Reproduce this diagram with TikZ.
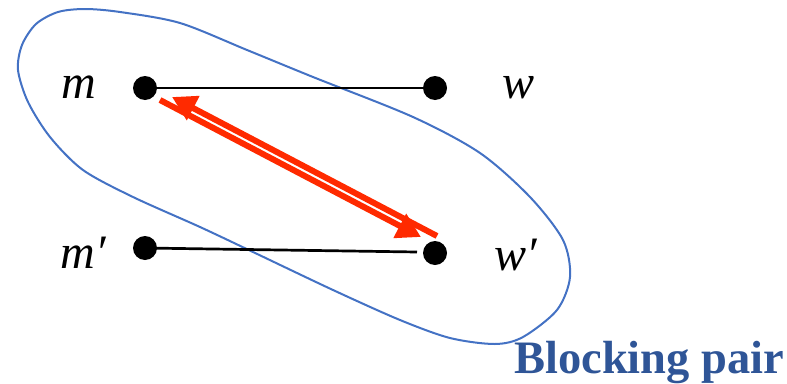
\documentclass[tikz,border=0pt]{standalone}
\usepackage{fontspec}
\setmainfont{Liberation Serif}
\usetikzlibrary{arrows.meta}
\definecolor{ringblue}{HTML}{4472C4}
\definecolor{pairred}{HTML}{FF2A00}
\definecolor{textblue}{HTML}{2F5597}
\tikzset{
  dotnode/.style={circle,fill=black,inner sep=0pt,minimum size=24pt},
  lbl/.style={anchor=base,inner sep=0pt,font=\fontsize{48}{52}\selectfont\itshape},
  redline/.style={draw=pairred,line width=6pt},
  redarrow/.style={redline,-{Triangle[length=24pt,width=26pt]}},
  ring/.style={draw=ringblue,line width=2pt}
}
\begin{document}
\begin{tikzpicture}[x=1pt,y=-1pt]
\useasboundingbox (0,0) rectangle (787,383);
% enclosing curve
\draw[ring] plot[smooth cycle,tension=0.5] coordinates {
 (18,70) (22,45) (36,24) (58,12) (85,9) (120,12) (180,23) (247,50) (313,77)
 (413,117) (480,153) (530,197) (563,240) (570,277) (557,310) (523,337)
 (495,344) (450,338) (400,320) (333,290) (253,252) (200,227) (133,197)
 (83,170) (50,137) (28,102)};
% vertices
\node[dotnode] (m) at (145,88) {};
\node[dotnode] (w) at (435,88) {};
\node[dotnode] (m2) at (145,248) {};
\node[dotnode] (w2) at (435,253) {};
\coordinate (e2) at (417,252);
\draw[line width=2.7pt] (m.center) -- (w.center);
\draw[line width=2.7pt] (m2.center) -- (e2);
% labels
\node[lbl] (lm) at (79,98) {m};
\node[lbl] (lw) at (519,98) {w};
\node[lbl] (lm2) at (83,268) {m′};
\node[lbl] (lw2) at (516,270) {w′};
% blocking pair arrows
\coordinate (a1) at (160,100);
\coordinate (a2) at (421,237);
\coordinate (b1) at (437,236);
\coordinate (b2) at (172,97);
\draw[redarrow] (a1) -- (a2);
\draw[redarrow] (b1) -- (b2);
% caption
\node[anchor=base west,inner sep=0pt,text=textblue,font=\fontsize{46.5}{52}\selectfont\bfseries] (cap) at (514,373) {Blocking pair};
\end{tikzpicture}
\end{document}
